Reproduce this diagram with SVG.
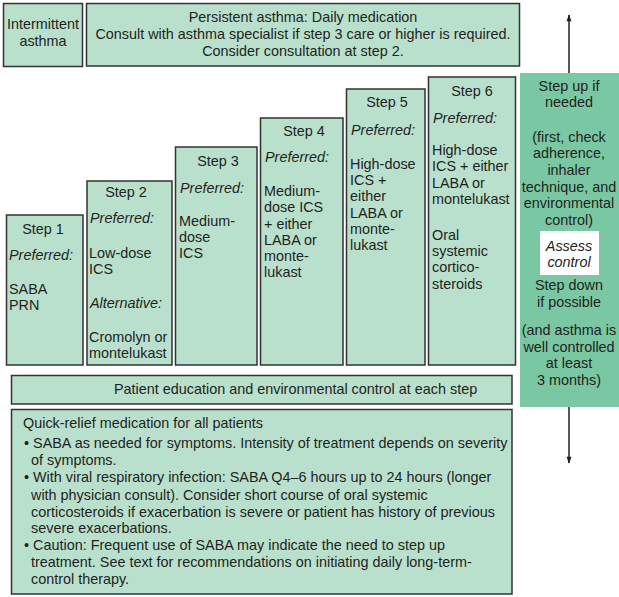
<svg xmlns="http://www.w3.org/2000/svg" width="619" height="597" viewBox="0 0 619 597">
  <style>
    .box { fill: #b9e0cd; stroke: #333333; stroke-width: 1.5; }
    .col { fill: #79c7a3; stroke: none; }
    text { font-family: "Liberation Sans", Arial, sans-serif; font-size: 14.4px; fill: #231f20; }
    .c { text-anchor: middle; }
    .i { font-style: italic; }
    .wire { stroke: #231f20; stroke-width: 1.5; fill: none; }
  </style>
  <defs>
    <marker id="arrow" viewBox="0 0 10 10" refX="9" refY="5" markerWidth="10" markerHeight="7" orient="auto" markerUnits="userSpaceOnUse">
      <path d="M0,1.5 L10,5 L0,8.5 Z" fill="#231f20"/>
    </marker>
  </defs>

  <rect width="619" height="597" fill="#ffffff"/>

  <g id="intermittent">
    <rect class="box" x="3.5" y="3.5" width="79" height="63"/>
    <text class="c" x="43" y="29">Intermittent</text>
    <text class="c" x="43" y="46">asthma</text>
  </g>

  <g id="persistent">
    <rect class="box" x="86.5" y="3.5" width="433" height="62.5"/>
    <text class="c" x="303" y="22">Persistent asthma: Daily medication</text>
    <text class="c" x="303" y="39">Consult with asthma specialist if step 3 care or higher is required.</text>
    <text class="c" x="303" y="56">Consider consultation at step 2.</text>
  </g>

  <g id="step1">
    <rect class="box" x="6.5" y="215" width="76.5" height="150"/>
    <text class="c" x="43" y="234">Step 1</text>
    <text class="i" x="9" y="260">Preferred:</text>
    <text x="9" y="294">SABA</text>
    <text x="9" y="310">PRN</text>
  </g>

  <g id="step2">
    <rect class="box" x="87" y="181" width="85" height="184"/>
    <text class="c" x="126" y="197">Step 2</text>
    <text class="i" x="90" y="223">Preferred:</text>
    <text x="89" y="258">Low-dose</text>
    <text x="89" y="274">ICS</text>
    <text class="i" x="90" y="308">Alternative:</text>
    <text x="89" y="342">Cromolyn or</text>
    <text x="89" y="358">montelukast</text>
  </g>

  <g id="step3">
    <rect class="box" x="175.5" y="147" width="81.5" height="218"/>
    <text class="c" x="218" y="166">Step 3</text>
    <text class="i" x="180" y="193">Preferred:</text>
    <text x="179" y="226">Medium-</text>
    <text x="179" y="242">dose</text>
    <text x="179" y="258">ICS</text>
  </g>

  <g id="step4">
    <rect class="box" x="260.5" y="118" width="82.5" height="247"/>
    <text class="c" x="304" y="136">Step 4</text>
    <text class="i" x="265" y="162">Preferred:</text>
    <text x="264" y="196">Medium-</text>
    <text x="264" y="212">dose ICS</text>
    <text x="264" y="229">+ either</text>
    <text x="264" y="245">LABA or</text>
    <text x="264" y="261">monte-</text>
    <text x="264" y="277">lukast</text>
  </g>

  <g id="step5">
    <rect class="box" x="346.5" y="89" width="78.5" height="276"/>
    <text class="c" x="387" y="107">Step 5</text>
    <text class="i" x="351" y="135">Preferred:</text>
    <text x="350" y="169">High-dose</text>
    <text x="350" y="185">ICS +</text>
    <text x="350" y="201">either</text>
    <text x="350" y="218">LABA or</text>
    <text x="350" y="234">monte-</text>
    <text x="350" y="250">lukast</text>
  </g>

  <g id="step6">
    <rect class="box" x="428.5" y="77" width="87" height="288"/>
    <text class="c" x="472" y="96">Step 6</text>
    <text class="i" x="433" y="123">Preferred:</text>
    <text x="432" y="155">High-dose</text>
    <text x="432" y="171">ICS + either</text>
    <text x="432" y="188">LABA or</text>
    <text x="432" y="204">montelukast</text>
    <text x="432" y="240">Oral</text>
    <text x="432" y="256">systemic</text>
    <text x="432" y="272">cortico-</text>
    <text x="432" y="289">steroids</text>
  </g>

  <g id="assess-column">
    <rect class="col" x="520" y="73" width="99" height="334"/>
    <text class="c" x="569" y="91">Step up if</text>
    <text class="c" x="569" y="107">needed</text>
    <text class="c" x="569" y="142">(first, check</text>
    <text class="c" x="569" y="158">adherence,</text>
    <text class="c" x="569" y="175">inhaler</text>
    <text class="c" x="569" y="192">technique, and</text>
    <text class="c" x="569" y="208">environmental</text>
    <text class="c" x="569" y="225">control)</text>
    <rect x="540" y="231" width="59" height="44" fill="#ffffff"/>
    <text class="c i" x="569" y="251">Assess</text>
    <text class="c i" x="569" y="267">control</text>
    <text class="c" x="569" y="290">Step down</text>
    <text class="c" x="569" y="307">if possible</text>
    <text class="c" x="569" y="335">(and asthma is</text>
    <text class="c" x="569" y="352">well controlled</text>
    <text class="c" x="569" y="368">at least</text>
    <text class="c" x="569" y="385">3 months)</text>
  </g>

  <g id="education">
    <rect class="box" x="11.5" y="375.5" width="500.5" height="28.5"/>
    <text x="114" y="394">Patient education and environmental control at each step</text>
  </g>

  <g id="quick-relief">
    <rect class="box" x="11.5" y="409.5" width="500.5" height="184.5"/>
    <text x="23" y="428">Quick-relief medication for all patients</text>
    <text x="24" y="448">• SABA as needed for symptoms. Intensity of treatment depends on severity</text>
    <text x="31" y="465">of symptoms.</text>
    <text x="24" y="482">• With viral respiratory infection: SABA Q4–6 hours up to 24 hours (longer</text>
    <text x="31" y="500">with physician consult). Consider short course of oral systemic</text>
    <text x="31" y="517">corticosteroids if exacerbation is severe or patient has history of previous</text>
    <text x="31" y="533">severe exacerbations.</text>
    <text x="24" y="550">• Caution: Frequent use of SABA may indicate the need to step up</text>
    <text x="31" y="567">treatment. See text for recommendations on initiating daily long-term-</text>
    <text x="31" y="584">control therapy.</text>
  </g>

  <g id="connectors">
    <line class="wire" x1="569" y1="73" x2="569" y2="15" marker-end="url(#arrow)"/>
    <line class="wire" x1="569" y1="407" x2="569" y2="463" marker-end="url(#arrow)"/>
  </g>
</svg>
